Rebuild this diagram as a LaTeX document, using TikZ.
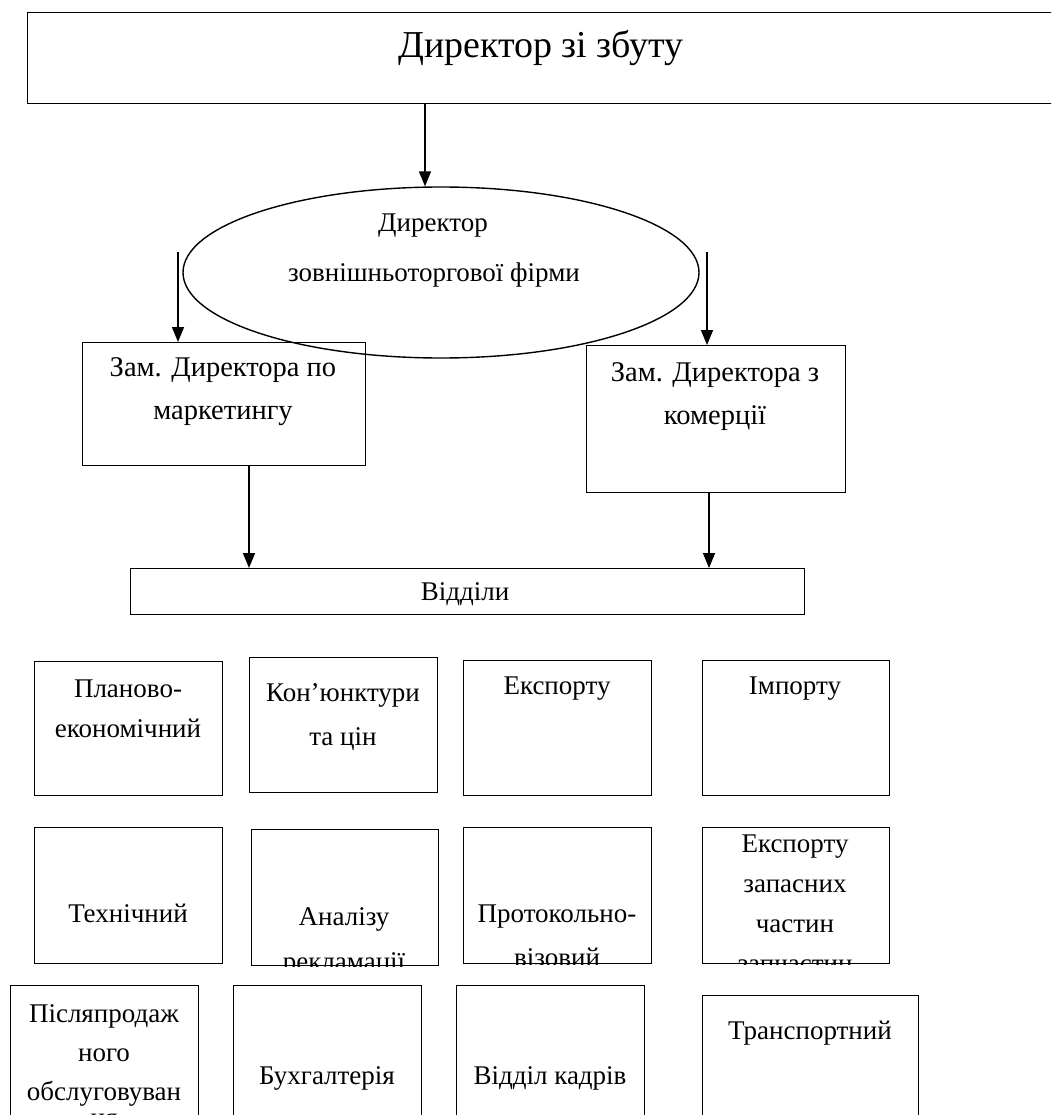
\documentclass[tikz,border=0pt]{standalone}
\usepackage{fontspec}
\setmainfont{Liberation Serif}
\usetikzlibrary{arrows.meta,shapes.geometric}
\begin{document}
\begin{tikzpicture}[x=1pt,y=-1pt,
  box/.style={draw,line width=1.4pt,inner sep=0pt,anchor=north west},
  txt/.style={anchor=base,inner sep=0pt,font=\fontsize{27}{32}\selectfont},
  ztxt/.style={txt,font=\fontsize{28.5}{34}\selectfont},
  arr/.style={-{Triangle[length=15pt,width=12pt]},line width=1.6pt}]
\clip (0,0) rectangle (1051,1115);
\fill[white] (0,0) rectangle (1051,1115);
% top
\node[box,minimum width=1100pt,minimum height=91pt] (top) at (27,12) {};
\node[txt,font=\fontsize{38}{44}\selectfont] (ttop) at (541,58) {Директор зі збуту};
% ellipse
\node[draw,ellipse,line width=1.4pt,minimum width=516pt,minimum height=171pt,inner sep=0pt] (ell) at (441,272.5) {};
\node[txt] (te1) at (433,232) {Директор};
\node[txt] (te2) at (434,281) {зовнішньоторгової фірми};
% deputies
\node[box,minimum width=283pt,minimum height=123pt] (zl) at (82,342) {};
\node[ztxt] (tzl1) at (223,376) {Зам. Директора по};
\node[ztxt] (tzl2) at (223,419) {маркетингу};
\node[box,minimum width=259pt,minimum height=147pt] (zr) at (586,345) {};
\node[ztxt] (tzr1) at (715,381) {Зам. Директора з};
\node[ztxt] (tzr2) at (715,424) {комерції};
% departments
\node[box,minimum width=674pt,minimum height=46pt] (vd) at (130,568) {};
\node[txt] (tvd) at (465,600) {Відділи};
% arrows
\draw[arr] (top.south -| 425,0) -- (ell.north -| 425,0);
\coordinate (la) at (178,252);
\coordinate (ra) at (707,252);
\draw[arr] (la) -- (zl.north -| la);
\draw[arr] (ra) -- (zr.north -| ra);
\draw[arr] (zl.south -| 249,0) -- (vd.north -| 249,0);
\draw[arr] (zr.south -| 709,0) -- (vd.north -| 709,0);
% row 1
\node[box,minimum width=188pt,minimum height=134pt] (p1) at (34,661) {};
\node[txt] (tp1a) at (128,697) {Планово-};
\node[txt] (tp1b) at (128,737) {економічний};
\node[box,minimum width=188pt,minimum height=135pt] (p2) at (249,657) {};
\node[txt] (tp2a) at (343,701) {Кон’юнктури};
\node[txt] (tp2b) at (343,745) {та цін};
\node[box,minimum width=188pt,minimum height=135pt] (p3) at (463,660) {};
\node[txt] (tp3) at (557,694) {Експорту};
\node[box,minimum width=187pt,minimum height=135pt] (p4) at (702,660) {};
\node[txt] (tp4) at (795,694) {Імпорту};
% row 2
\node[box,minimum width=188pt,minimum height=136pt] (q1) at (34,827) {};
\node[txt] (tq1) at (128,922) {Технічний};
\node[box,minimum width=187pt,minimum height=136pt] (q2) at (251,829) {};
\begin{scope}
\clip (q2.north west) rectangle (q2.south east);
\node[txt] (tq2a) at (344,925) {Аналізу};
\node[txt] (tq2b) at (344,970) {рекламації};
\end{scope}
\node[box,minimum width=188pt,minimum height=136pt] (q3) at (463,827) {};
\begin{scope}
\clip (q3.north west) rectangle (q3.south east);
\node[txt] (tq3a) at (557,922) {Протокольно-};
\node[txt] (tq3b) at (557,966) {візовий};
\end{scope}
\node[box,minimum width=187pt,minimum height=136pt] (q4) at (702,827) {};
\begin{scope}
\clip (q4.north west) rectangle (q4.south east);
\node[txt] (tq4a) at (795,852) {Експорту};
\node[txt] (tq4b) at (795,892) {запасних};
\node[txt] (tq4c) at (795,932) {частин};
\node[txt] (tq4d) at (795,972) {запчастин};
\end{scope}
% row 3
\node[box,minimum width=188pt,minimum height=200pt] (s1) at (10,985) {};
\node[txt] (ts1a) at (104,1022) {Післяпродаж};
\node[txt] (ts1b) at (104,1061) {ного};
\node[txt] (ts1c) at (104,1100) {обслуговуван};
\node[txt] (ts1d) at (104,1126) {ня};
\node[box,minimum width=188pt,minimum height=200pt] (s2) at (233,985) {};
\node[txt] (ts2) at (327,1084) {Бухгалтерія};
\node[box,minimum width=188pt,minimum height=200pt] (s3) at (456,985) {};
\node[txt] (ts3) at (550,1084) {Відділ кадрів};
\node[box,minimum width=216pt,minimum height=200pt] (s4) at (702,995) {};
\node[txt] (ts4) at (810,1039) {Транспортний};
\end{tikzpicture}
\end{document}
